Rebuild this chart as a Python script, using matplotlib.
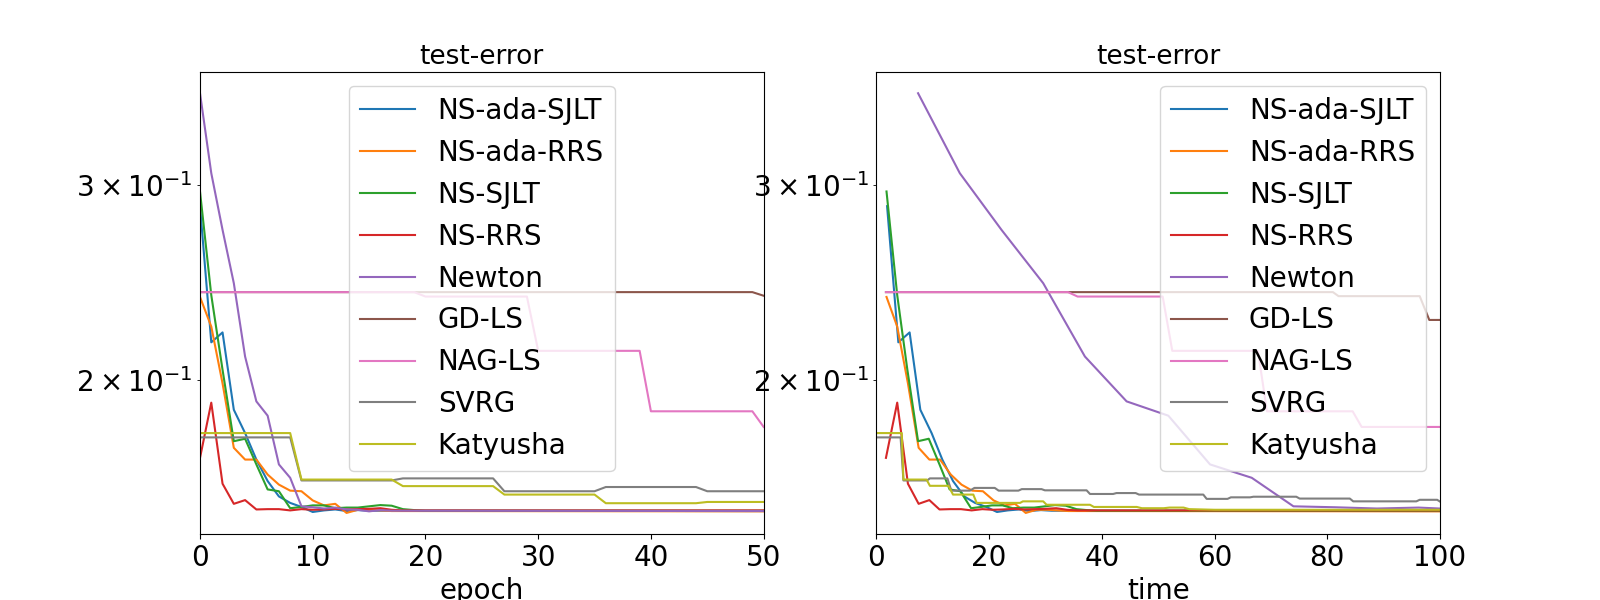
import matplotlib
matplotlib.use("Agg")
import matplotlib.pyplot as plt

plt.rcParams["font.size"] = 20

labels = ["NS-ada-SJLT", "NS-ada-RRS", "NS-SJLT", "NS-RRS", "Newton",
          "GD-LS", "NAG-LS", "SVRG", "Katyusha"]

# ---------------- left panel: test error vs epoch ----------------
ep_ada_sjlt = list(range(16)) + [50]
err_ada_sjlt = [0.287, 0.2162, 0.2207, 0.1879, 0.1790, 0.1694, 0.1620, 0.1569,
                0.1548, 0.1535, 0.1519, 0.1524, 0.1527, 0.1522, 0.1525, 0.1523,
                0.1522]

ep_ada_rrs = list(range(18)) + [50]
err_ada_rrs = [0.2376, 0.2234, 0.1985, 0.1736, 0.1694, 0.1694, 0.1642, 0.1608,
               0.1588, 0.1586, 0.1556, 0.1540, 0.1545, 0.1516, 0.1526, 0.1526,
               0.1524, 0.1522, 0.1521]

ep_sjlt = list(range(21)) + [50]
err_sjlt = [0.2959, 0.2385, 0.2042, 0.1760, 0.1769, 0.1677, 0.1592, 0.1586,
            0.1531, 0.1535, 0.1540, 0.1540, 0.1531, 0.1533, 0.1533, 0.1537,
            0.1541, 0.1539, 0.1528, 0.1525, 0.1523, 0.1523]

ep_rrs = list(range(19)) + [50]
err_rrs = [0.1700, 0.1907, 0.1611, 0.1545, 0.1557, 0.1527, 0.1528, 0.1528,
           0.1524, 0.1528, 0.1526, 0.1527, 0.1529, 0.1527, 0.1528, 0.1529,
           0.1531, 0.1526, 0.1524, 0.1524]

ep_newton = list(range(18)) + [50]
err_newton = [0.3630, 0.3074, 0.2732, 0.2445, 0.2099, 0.1912, 0.1856, 0.1677,
              0.1631, 0.1537, 0.1534, 0.1530, 0.1533, 0.1527, 0.1526, 0.1521,
              0.1525, 0.1523, 0.1522]

ep_gd = [0, 49, 50]
err_gd = [0.2400, 0.2400, 0.2382]

ep_nag = [0, 19, 20, 29, 30, 39, 40, 49, 50]
err_nag = [0.2400, 0.2400, 0.2378, 0.2378, 0.2124, 0.2124, 0.1873, 0.1873, 0.1813]

ep_svrg = [0, 8, 9, 17, 18, 26, 27, 35, 36, 44, 45, 50]
err_svrg = [0.1774, 0.1774, 0.1622, 0.1622, 0.1629, 0.1629, 0.1586, 0.1586,
            0.1600, 0.1600, 0.1586, 0.1586]

ep_katyusha = [0, 8, 9, 17, 18, 26, 27, 35, 36, 44, 45, 50]
err_katyusha = [0.1790, 0.1790, 0.1625, 0.1625, 0.1603, 0.1603, 0.1575, 0.1575,
                0.1547, 0.1547, 0.1551, 0.1551]

# ---------------- right panel: test error vs time ----------------
t_ada_sjlt = [1.9, 3.9, 5.9, 7.8, 9.8, 11.7, 13.6, 15.6, 17.5, 19.5, 21.4,
              23.3, 25.3, 27.2, 29.2, 31.1, 101.0]
t_ada_rrs = [1.8, 3.7, 5.6, 7.5, 9.4, 11.3, 13.2, 15.1, 17.0, 18.9, 20.8, 22.7,
             24.6, 26.5, 28.4, 30.3, 32.2, 34.1, 101.0]
t_sjlt = [1.8, 3.7, 5.5, 7.4, 9.3, 11.2, 13.0, 14.9, 16.8, 18.6, 20.5, 22.4,
          24.2, 26.1, 28.0, 29.9, 31.7, 33.6, 35.5, 37.3, 39.2, 101.0]
t_rrs = [1.7, 3.7, 5.6, 7.5, 9.4, 11.2, 13.1, 15.0, 16.9, 18.8, 20.6, 22.5,
         24.4, 26.3, 28.2, 30.0, 31.9, 33.8, 35.7, 101.0]
t_newton = [7.4, 14.8, 22.2, 29.6, 37.0, 44.4, 51.8, 59.2, 66.6, 74.0, 81.4,
            88.8, 96.2, 103.6]
err_newton_t = err_newton[:14]

t_gd = [1.7, 81.0, 82.0, 96.4, 98.1, 101.0]
err_gd_t = [0.2400, 0.2400, 0.2380, 0.2380, 0.2265, 0.2265]

t_nag = [1.7, 34.0, 35.7, 50.8, 52.5, 67.7, 69.3, 84.5, 86.1, 101.0]
err_nag_t = [0.2400, 0.2400, 0.2378, 0.2378, 0.2124, 0.2124, 0.1873, 0.1873,
             0.1813, 0.1813]

t_svrg = [0, 4.3, 4.8, 9.0, 9.5, 12.6, 13.3, 16.6, 17.4, 21.0, 21.7, 25.2, 25.8,
          29.3, 29.9, 37.3, 37.9, 42.0, 42.6, 46.0, 46.6, 58.0, 58.6, 62.3, 62.9,
          66.3, 66.9, 74.5, 75.1, 84.0, 84.6, 95.8, 96.4, 99.5, 100.1]
err_svrg_t = [0.1774, 0.1774, 0.1622, 0.1622, 0.1629, 0.1629, 0.1588, 0.1588,
              0.1597, 0.1597, 0.1588, 0.1588, 0.1593, 0.1593, 0.1589, 0.1589,
              0.1577, 0.1577, 0.1580, 0.1580, 0.1575, 0.1575, 0.1561, 0.1561,
              0.1566, 0.1566, 0.1568, 0.1568, 0.1562, 0.1562, 0.1553, 0.1553,
              0.1558, 0.1558, 0.1551]

t_katyusha = [0, 4.5, 4.8, 8.9, 9.5, 12.8, 13.6, 17.2, 17.8, 25.5, 26.0, 29.6,
              30.2, 37.9, 38.6, 46.2, 47.1, 51.0, 52.0, 54.5, 55.5, 60.0, 101.0]
err_katyusha_t = [0.1790, 0.1790, 0.1625, 0.1625, 0.1604, 0.1604, 0.1575, 0.1575,
                  0.1548, 0.1548, 0.1553, 0.1553, 0.1542, 0.1542, 0.1535, 0.1535,
                  0.1531, 0.1531, 0.1533, 0.1533, 0.1528, 0.1526, 0.1526]

left_series = [(ep_ada_sjlt, err_ada_sjlt), (ep_ada_rrs, err_ada_rrs),
               (ep_sjlt, err_sjlt), (ep_rrs, err_rrs), (ep_newton, err_newton),
               (ep_gd, err_gd), (ep_nag, err_nag), (ep_svrg, err_svrg),
               (ep_katyusha, err_katyusha)]

right_series = [(t_ada_sjlt, err_ada_sjlt), (t_ada_rrs, err_ada_rrs),
                (t_sjlt, err_sjlt), (t_rrs, err_rrs), (t_newton, err_newton_t),
                (t_gd, err_gd_t), (t_nag, err_nag_t), (t_svrg, err_svrg_t),
                (t_katyusha, err_katyusha_t)]

fig, axes = plt.subplots(1, 2, figsize=(16, 6))

for (x, y), name in zip(left_series, labels):
    axes[0].plot(x, y, label=name)
axes[0].set_yscale("log")
axes[0].set_xlim(0, 50)
axes[0].set_ylim(0.1451, 0.3794)
axes[0].set_title("test-error", fontsize=19)
axes[0].set_xlabel("epoch")
axes[0].legend(loc="upper center")

for (x, y), name in zip(right_series, labels):
    axes[1].plot(x, y, label=name)
axes[1].set_yscale("log")
axes[1].set_xlim(0, 100)
axes[1].set_ylim(0.1451, 0.3794)
axes[1].set_title("test-error", fontsize=19)
axes[1].set_xlabel("time")
axes[1].legend(loc="upper right")

fig.savefig("out.png", dpi=100)
